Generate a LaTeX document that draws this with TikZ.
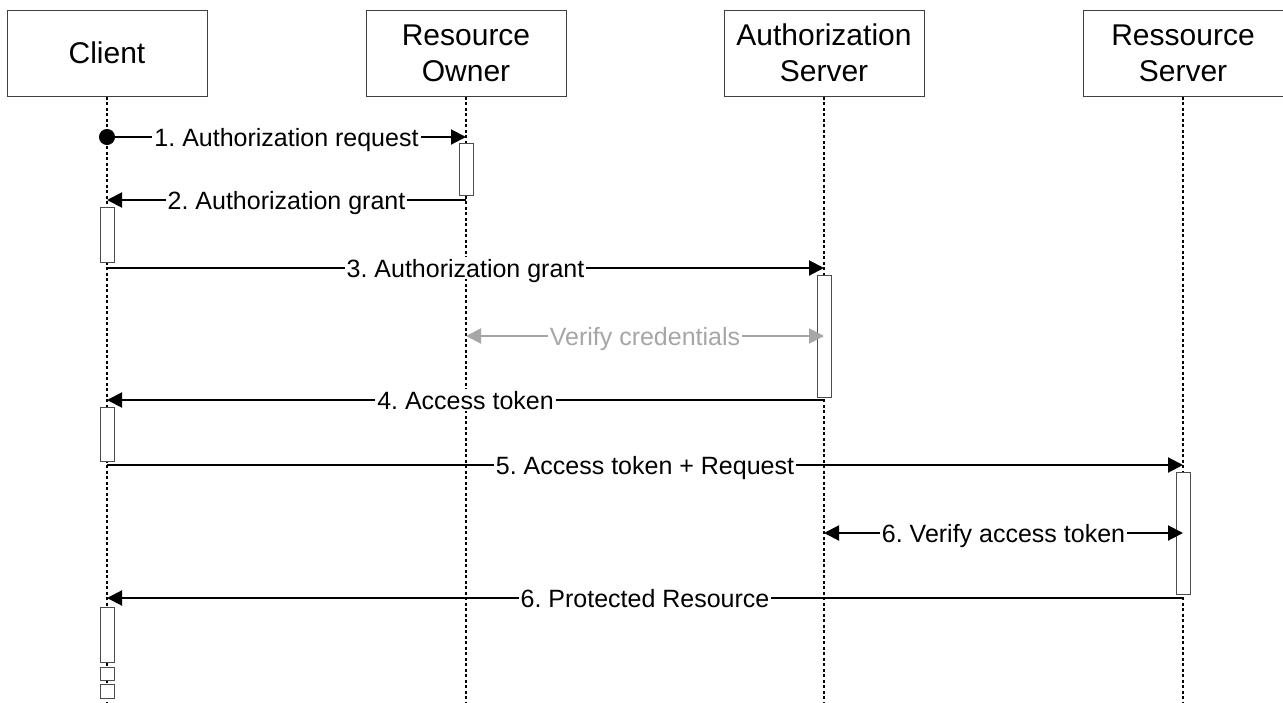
\documentclass[tikz,border=0pt]{standalone}
\usepackage{fontspec}
\setmainfont{Liberation Sans}
\usetikzlibrary{arrows.meta}
\frenchspacing
\begin{document}
\begin{tikzpicture}[x=1pt,y=-1pt,>={Triangle[length=15pt,width=15pt]},
	actor/.style={draw=black!75,line width=1pt,minimum width=200pt,minimum height=86pt,align=center,font=\fontsize{30}{36}\selectfont},
	life/.style={line width=2pt,dash pattern=on 3pt off 2.5pt},
	act/.style={draw=black!70,fill=white,line width=1pt,minimum width=14pt,inner sep=0pt},
	msg/.style={line width=2pt},
	lbl/.style={fill=white,inner sep=2pt,text height=18pt,text depth=0pt,font=\fontsize{25}{30}\selectfont}]
	\useasboundingbox (0,0) rectangle (1283,702);
	% actors
	\node[actor] (cl) at (107,53) {Client};
	\node[actor] (ro) at (466,53) {Resource\\Owner};
	\node[actor] (as) at (824,53) {Authorization\\Server};
	\node[actor] (rs) at (1183,53) {Ressource\\Server};
	\foreach \n in {cl,ro,as,rs}
		\draw[life] (\n.south) -- (\n |- 0,702);
	% activations
	\node[act,minimum height=52pt] (a1) at (466,169) {};
	\node[act,minimum height=55pt] (a2) at (107,234.5) {};
	\node[act,minimum height=122pt] (a3) at (824,336) {};
	\node[act,minimum height=54pt] (a4) at (107,434) {};
	\node[act,minimum height=122pt] (a5) at (1183,533) {};
	\node[act,minimum height=55pt] (a6) at (107,634.5) {};
	\node[act,minimum height=13pt] (a7) at (107,673.5) {};
	\node[act,minimum height=14pt] (a8) at (107,691) {};
	% messages
	\draw[msg,{Circle[length=16pt]}->,shorten <=-8pt] (cl |- 0,137) -- node[lbl]{1. Authorization request} (ro |- 0,137);
	\draw[msg,->] (ro |- 0,200) -- node[lbl]{2. Authorization grant} (cl |- 0,200);
	\draw[msg,->] (cl |- 0,268) -- node[lbl]{3. Authorization grant} (as |- 0,268);
	\draw[msg,black!35,<->] (ro |- 0,336) -- node[lbl]{Verify credentials} (as |- 0,336);
	\draw[msg,->] (as |- 0,400) -- node[lbl]{4. Access token} (cl |- 0,400);
	\draw[msg,->] (cl |- 0,465) -- node[lbl]{5. Access token + Request} (rs |- 0,465);
	\draw[msg,<->] (as |- 0,533) -- node[lbl]{6. Verify access token} (rs |- 0,533);
	\draw[msg,->] (rs |- 0,598) -- node[lbl]{6. Protected Resource} (cl |- 0,598);
\end{tikzpicture}
\end{document}
